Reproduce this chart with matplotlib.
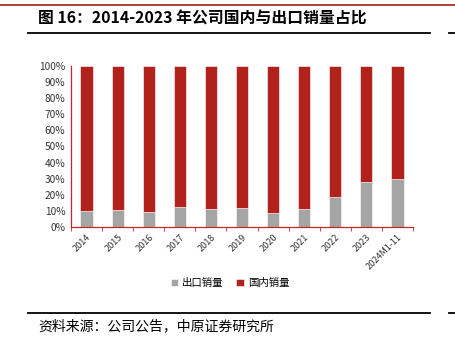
import numpy as np
import matplotlib.pyplot as plt
from matplotlib.lines import Line2D

plt.rcParams['font.family'] = ['Noto Sans CJK SC', 'DejaVu Sans']

years = ['2014', '2015', '2016', '2017', '2018', '2019', '2020', '2021',
         '2022', '2023', '2024M1-11']
export_share = [10.1, 10.3, 9.5, 12.2, 11.4, 11.8, 8.7, 11.4, 18.6, 27.8, 29.8]
domestic_share = [100 - v for v in export_share]

red = '#B0221B'
gray = '#A5A5A5'
axis_red = '#C0282A'

fig = plt.figure(figsize=(4.55, 3.47), dpi=100)
W, H = 455, 347

# header / footer rules
fig.add_artist(Line2D([0, 1], [1 - 5 / H, 1 - 5 / H], color='#A01E1E', lw=1.2))
fig.add_artist(Line2D([28 / W, 430 / W], [1 - 33 / H, 1 - 33 / H], color='black', lw=1.3))
fig.add_artist(Line2D([449 / W, 1], [1 - 33 / H, 1 - 33 / H], color='black', lw=1.3))
fig.add_artist(Line2D([28 / W, 430 / W], [1 - 313 / H, 1 - 313 / H], color='black', lw=1.3))
fig.add_artist(Line2D([449 / W, 1], [1 - 313 / H, 1 - 313 / H], color='black', lw=1.3))

fig.text(38 / W, 1 - 19 / H, '图 16：2014-2023 年公司国内与出口销量占比',
         fontsize=11.4, fontweight='bold', va='center', ha='left')
fig.text(38 / W, 1 - 326 / H, '资料来源：公司公告，中原证券研究所',
         fontsize=10, va='center', ha='left')

ax = fig.add_axes([71 / W, 1 - 227 / H, (413 - 71) / W, (227 - 66) / H])
x = np.arange(len(years))
ax.bar(x, export_share, width=0.39, color=gray, edgecolor='white', linewidth=0.4,
       label='出口销量')
ax.bar(x, domestic_share, width=0.39, bottom=export_share, color=red,
       edgecolor='white', linewidth=0.4, label='国内销量')

ax.set_xlim(-0.5, len(years) - 0.5)
ax.set_ylim(0, 100)
ax.set_yticks(np.arange(0, 101, 10))
ax.set_yticklabels([f'{v}%' for v in range(0, 101, 10)], fontsize=7.3, color='#333333')
ax.set_xticks(x)
ax.set_xticklabels(years, rotation=45, ha='right', rotation_mode='anchor',
                   fontsize=6.6, color='#333333')
ax.tick_params(axis='x', which='major', length=0, pad=4)
ax.set_xticks(np.arange(-0.5, len(years), 1), minor=True)
ax.tick_params(axis='x', which='minor', length=3, color=axis_red, direction='out')
ax.tick_params(axis='y', length=0, pad=4)

for side in ['top', 'right']:
    ax.spines[side].set_visible(False)
for side in ['left', 'bottom']:
    ax.spines[side].set_color(axis_red)
    ax.spines[side].set_linewidth(0.9)

fig.legend(loc='center', bbox_to_anchor=(230 / W, 1 - 283 / H), ncol=2, frameon=False,
           fontsize=7.5, handlelength=0.7, handleheight=0.7, handletextpad=0.4,
           columnspacing=1.2)

fig.savefig('out.png', dpi=100)
